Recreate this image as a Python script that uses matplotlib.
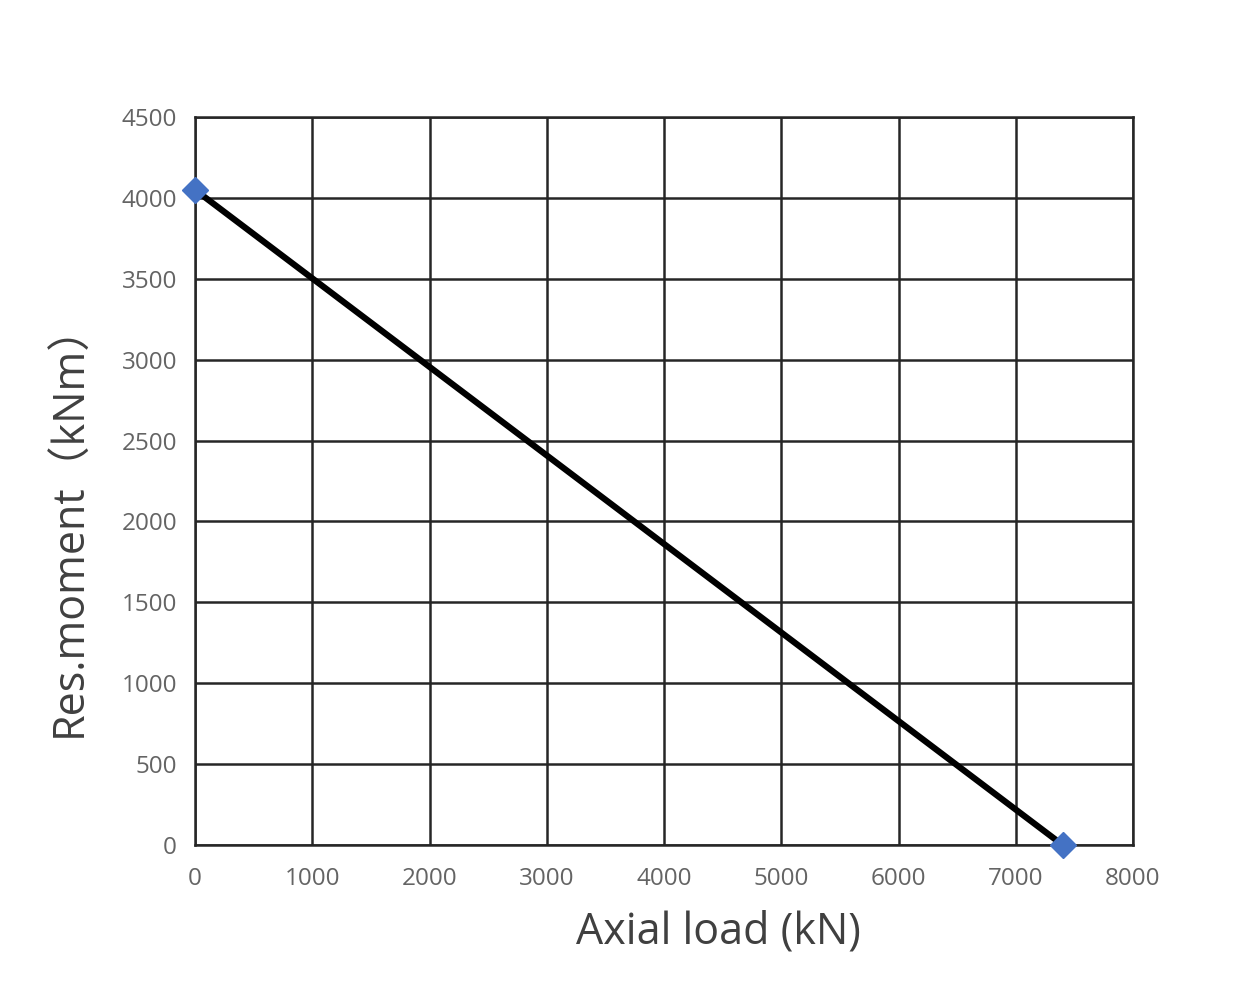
import matplotlib
matplotlib.use("Agg")
import matplotlib.pyplot as plt

axial_load = [0, 7400]
res_moment = [4050, 0]
x_ticks = [0, 1000, 2000, 3000, 4000, 5000, 6000, 7000, 8000]
y_ticks = [0, 500, 1000, 1500, 2000, 2500, 3000, 3500, 4000, 4500]

plt.rcParams['font.family'] = ['Open Sans', 'Noto Sans CJK SC', 'DejaVu Sans']

fig = plt.figure(figsize=(12.6, 9.9), dpi=100)
ax = fig.add_axes([0.1548, 0.1465, 0.8992 - 0.1548, 0.8818 - 0.1465])

ax.plot(axial_load, res_moment, color='black', lw=4.5, zorder=3, solid_capstyle='butt')
ax.plot(axial_load, res_moment, linestyle='none', marker='D', markersize=13,
        color='#4472C4', zorder=4, clip_on=False)

ax.set_xlim(0, 8000)
ax.set_ylim(0, 4500)
ax.set_xticks(x_ticks)
ax.set_yticks(y_ticks)
ax.grid(True, color='#262626', lw=1.8)
ax.set_axisbelow(True)
for s in ax.spines.values():
    s.set_color('#262626')
    s.set_linewidth(1.8)
ax.tick_params(length=0, labelsize=17.5, labelcolor='#646464')
ax.tick_params(axis='x', pad=16)
ax.tick_params(axis='y', pad=13)

fig.text(718 / 1260, 1 - 932 / 990, 'Axial load (kN)', fontsize=31, color='#404040',
         ha='center', va='center')
fig.text(70 / 1260, 1 - 520 / 990, 'Res.moment（kNm）', fontsize=31, color='#404040',
         ha='center', va='center', rotation=90)

fig.savefig('out.png', dpi=100)
